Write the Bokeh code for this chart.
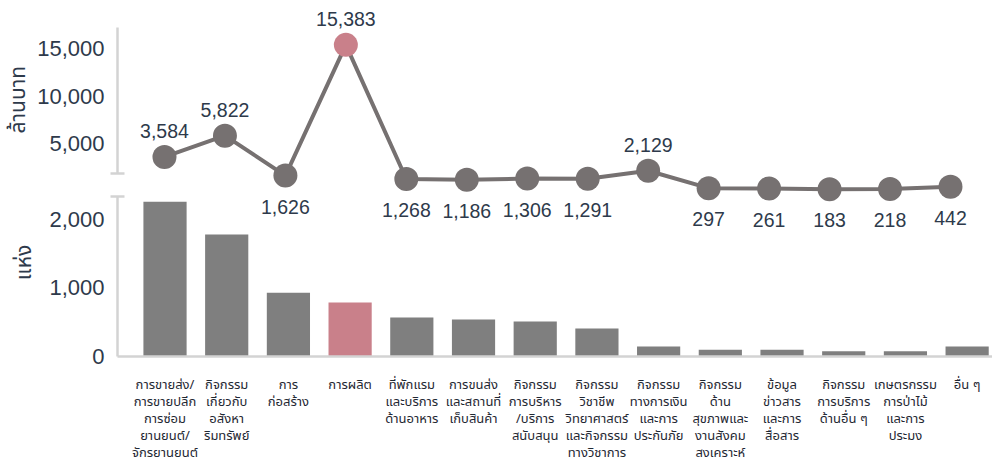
from bokeh.plotting import figure
from bokeh.models import (ColumnDataSource, FixedTicker, Range1d, GridBox,
                          NumeralTickFormatter)
from bokeh.embed import file_html
from bokeh.resources import INLINE
from bokeh.core.properties import value

# ---------------- data ----------------
categories = [
    "การขายส่ง/\nการขายปลีก\nการซ่อม\nยานยนต์/\nจักรยานยนต์",
    "กิจกรรม\nเกี่ยวกับ\nอสังหา\nริมทรัพย์",
    "การ\nก่อสร้าง",
    "การผลิต",
    "ที่พักแรม\nและบริการ\nด้านอาหาร",
    "การขนส่ง\nและสถานที่\nเก็บสินค้า",
    "กิจกรรม\nการบริหาร\n/บริการ\nสนับสนุน",
    "กิจกรรม\nวิชาชีพ\nวิทยาศาสตร์\nและกิจกรรม\nทางวิชาการ",
    "กิจกรรม\nทางการเงิน\nและการ\nประกันภัย",
    "กิจกรรม\nด้าน\nสุขภาพและ\nงานสังคม\nสงเคราะห์",
    "ข้อมูล\nข่าวสาร\nและการ\nสื่อสาร",
    "กิจกรรม\nการบริการ\nด้านอื่น ๆ",
    "เกษตรกรรม\nการป่าไม้\nและการ\nประมง",
    "อื่น ๆ",
]
establishments = [2260, 1780, 930, 790, 570, 540, 510, 410, 145, 100, 100, 75, 75, 145]   # แห่ง
revenue = [3584, 5822, 1626, 15383, 1268, 1186, 1306, 1291, 2129, 297, 261, 183, 218, 442]  # ล้านบาท
highlight_index = 3
revenue_ticks = [5000, 10000, 15000]
count_ticks = [0, 1000, 2000]
revenue_axis_title = "ล้านบาท"
count_axis_title = "แห่ง"

# label placement (style): True = above the point
label_above = [True, True, False, True, False, False, False, False, True,
               False, False, False, False, False]

# ---------------- styles ----------------
GREY_BAR = "#7f7f7f"
GREY_PT = "#767171"
PINK = "#c9808a"
AXIS = "#d3d3d3"
TXT = "#2e3a4b"
NUM_FONT = "Liberation Sans"
THAI_FONT = "'Noto Sans Thai', 'Noto Sans', sans-serif"
EM = "\u2003"   # em spaces used to slide each axis title along its panel
EN = "\u2002"

FRAME_W, FRAME_H = 879, 356
LEFT = 113

xs = list(range(len(categories)))
bar_colors = [PINK if i == highlight_index else GREY_BAR for i in xs]
pt_colors = [PINK if i == highlight_index else GREY_PT for i in xs]


def style_left_axis(ax, ticks, cap, top, title, title_standoff):
    ax.ticker = FixedTicker(ticks=ticks, minor_ticks=[cap])
    ax.bounds = (min(cap, top), max(cap, top))
    ax.formatter = NumeralTickFormatter(format="0,0")
    ax.major_tick_in = 0
    ax.major_tick_out = 0
    ax.minor_tick_in = 7
    ax.minor_tick_out = 7
    ax.minor_tick_line_color = AXIS
    ax.minor_tick_line_width = 2.5
    ax.axis_line_color = AXIS
    ax.axis_line_width = 2.5
    ax.major_label_text_font = NUM_FONT
    ax.major_label_text_font_size = "22px"
    ax.major_label_text_color = TXT
    ax.major_label_standoff = 6
    ax.axis_label = title
    ax.axis_label_standoff = title_standoff
    ax.axis_label_text_font = THAI_FONT
    ax.axis_label_text_font_size = "21px"
    ax.axis_label_text_font_style = "normal"
    ax.axis_label_text_color = TXT


# ---------------- bar figure ----------------
pb = figure(frame_width=FRAME_W, frame_height=FRAME_H, output_backend="svg",
            toolbar_location=None, x_range=Range1d(-0.770, 13.476),
            y_range=Range1d(0, 5197), min_border_left=LEFT, min_border_right=0,
            min_border_top=0, min_border_bottom=0)
pb.outline_line_color = None
pb.grid.visible = False
pb.vbar(x=xs, top=establishments, width=0.7, fill_color=bar_colors, line_color=None)

style_left_axis(pb.yaxis[0], count_ticks, 2336, 0, count_axis_title + EM * 8, 6)

xa = pb.xaxis[0]
xa.ticker = FixedTicker(ticks=xs)
xa.major_label_overrides = {i: c for i, c in zip(xs, categories)}
xa.major_tick_line_color = None
xa.minor_tick_line_color = None
xa.axis_line_color = AXIS
xa.axis_line_width = 2.5
xa.major_label_text_font = THAI_FONT
xa.major_label_text_font_size = "13px"
xa.major_label_text_color = "#1f2833"
xa.major_label_text_line_height = 0.85
xa.major_label_standoff = 12

# ---------------- line figure ----------------
pl = figure(frame_width=FRAME_W, frame_height=FRAME_H, output_backend="svg",
            toolbar_location=None, x_range=Range1d(-0.777, 13.761),
            y_range=Range1d(-17421, 20053), x_axis_type=None,
            min_border_left=LEFT, min_border_right=0, min_border_top=0,
            min_border_bottom=0)
pl.outline_line_color = None
pl.grid.visible = False
pl.background_fill_alpha = 0
pl.border_fill_alpha = 0

src = ColumnDataSource(dict(
    x=xs, y=revenue, c=pt_colors,
    t=[f"{v:,}" for v in revenue],
    dy=[-26 if a else 31 for a in label_above],
))
pl.line("x", "y", source=src, line_width=4, line_color=GREY_PT)
pl.scatter("x", "y", source=src, size=24, fill_color="c", line_color=None)
pl.text("x", "y", text="t", source=src, y_offset="dy", text_align="center",
        text_baseline="middle", text_font=value(NUM_FONT), text_font_size="19.5px",
        text_color=TXT)

style_left_axis(pl.yaxis[0], revenue_ticks, 1842, 17210,
                EM * 7 + EN + revenue_axis_title, 0)

layout = GridBox(children=[(pb, 0, 0), (pl, 0, 0)])

open("out.html", "w").write(file_html(layout, INLINE))
